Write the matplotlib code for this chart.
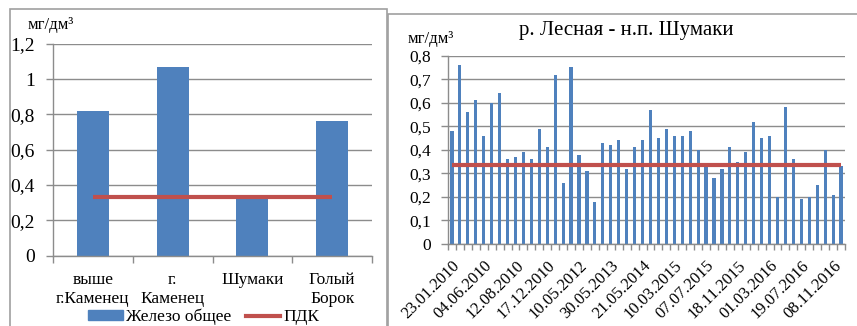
import matplotlib
matplotlib.use("Agg")
import matplotlib.pyplot as plt
from matplotlib.patches import Rectangle
from matplotlib.lines import Line2D
from matplotlib.ticker import FixedLocator, FuncFormatter

# --- data -------------------------------------------------------------
sites = ["выше\nг.Каменец", "г.\nКаменец", "Шумаки", "Голый\nБорок"]
iron_by_site = [0.82, 1.07, 0.33, 0.76]

pdk = 0.335

shumaki_iron = [
    0.48, 0.76, 0.56, 0.61, 0.46, 0.60, 0.64, 0.36, 0.37, 0.39,
    0.36, 0.49, 0.41, 0.72, 0.26, 0.75, 0.38, 0.31, 0.18, 0.43,
    0.42, 0.44, 0.32, 0.41, 0.44, 0.57, 0.45, 0.49, 0.46, 0.46,
    0.48, 0.40, 0.33, 0.28, 0.32, 0.41, 0.35, 0.39, 0.52, 0.45,
    0.46, 0.20, 0.58, 0.36, 0.19, 0.20, 0.25, 0.40, 0.21, 0.33,
]
date_labels = [
    "23.01.2010", "04.06.2010", "12.08.2010", "17.12.2010", "10.05.2012",
    "30.05.2013", "21.05.2014", "10.03.2015", "07.07.2015", "18.11.2015",
    "01.03.2016", "19.07.2016", "08.11.2016",
]
label_step = 4

# --- style ------------------------------------------------------------
plt.rcParams["font.family"] = ["Liberation Serif", "DejaVu Serif"]
BLUE = "#4F81BD"
RED = "#C0504D"
GRID = "#8C8C8C"
W, H = 857, 326

fig = plt.figure(figsize=(W / 100, H / 100), dpi=100)


def fx(px):
    return px / W


def fy(py):
    return 1 - py / H


def comma(v, _pos):
    s = f"{v:.1f}".rstrip("0").rstrip(".")
    return s.replace(".", ",")


def style_axes(ax, pad):
    ax.set_facecolor("white")
    for side in ("top", "right"):
        ax.spines[side].set_visible(False)
    for side in ("left", "bottom"):
        ax.spines[side].set_color(GRID)
        ax.spines[side].set_linewidth(1.0)
    ax.yaxis.grid(True, color=GRID, linewidth=1.0)
    ax.set_axisbelow(True)
    ax.yaxis.set_major_formatter(FuncFormatter(comma))
    ax.tick_params(axis="y", length=5, color=GRID, width=1.0, pad=pad)


# frames around the two charts
fig.patches.append(Rectangle((fx(10), -0.2), fx(377), fy(9) + 0.2,
                             transform=fig.transFigure, fill=False,
                             edgecolor="#A0A0A0", linewidth=1.2))
fig.patches.append(Rectangle((fx(388), -0.2), fx(500), fy(14) + 0.2,
                             transform=fig.transFigure, fill=False,
                             edgecolor="#A0A0A0", linewidth=1.2))

# --- left chart: iron by site ---------------------------------------
ax1 = fig.add_axes([fx(53), fy(255.7), fx(372 - 53), (255.7 - 43.7) / H])
style_axes(ax1, pad=8)
x1 = list(range(len(sites)))
ax1.bar(x1, iron_by_site, width=0.4, color=BLUE, zorder=2)
ax1.plot(x1, [pdk] * len(x1), color=RED, linewidth=3.0, zorder=3,
         solid_capstyle="butt")
ax1.set_xlim(-0.5, len(sites) - 0.5)
ax1.set_ylim(0, 1.2)
ax1.set_yticks([0, 0.2, 0.4, 0.6, 0.8, 1.0, 1.2])
ax1.tick_params(axis="y", labelsize=14)
ax1.set_xticks(x1)
ax1.set_xticklabels(sites, fontsize=12.5, linespacing=1.2)
ax1.tick_params(axis="x", which="major", length=0, pad=12)
ax1.xaxis.set_minor_locator(FixedLocator([i - 0.5 for i in range(len(sites) + 1)]))
ax1.tick_params(axis="x", which="minor", length=5, color=GRID, width=1.0)
fig.text(fx(51), fy(25), "мг/дм³", ha="center", va="center", fontsize=12)

handles = [Rectangle((0, 0), 1, 1, color=BLUE),
           Line2D([], [], color=RED, linewidth=3.0)]
fig.legend(handles, ["Железо общее", "ПДК"], loc="center",
           bbox_to_anchor=(fx(204), fy(317)), ncol=2, frameon=False,
           fontsize=12.5, handlelength=2.0, handleheight=0.55,
           handletextpad=0.2, columnspacing=0.8, borderpad=0)

# --- right chart: time series at Шумаки ------------------------------
ax2 = fig.add_axes([fx(448), fy(244), fx(845 - 448), (244 - 55.7) / H])
style_axes(ax2, pad=7)
x2 = list(range(len(shumaki_iron)))
ax2.bar(x2, shumaki_iron, width=0.4, color=BLUE, zorder=2)
ax2.plot([x2[0], x2[-1]], [pdk, pdk], color=RED, linewidth=3.0, zorder=3,
         solid_capstyle="butt")
ax2.set_xlim(-0.5, len(shumaki_iron) - 0.5)
ax2.set_ylim(0, 0.8)
ax2.set_yticks([0, 0.1, 0.2, 0.3, 0.4, 0.5, 0.6, 0.7, 0.8])
ax2.tick_params(axis="y", labelsize=12.5)
ax2.set_xticks(x2[::label_step])
ax2.set_xticklabels(date_labels, fontsize=12, rotation=45, ha="right",
                    rotation_mode="anchor")
ax2.tick_params(axis="x", which="major", length=0, pad=10)
ax2.xaxis.set_minor_locator(FixedLocator([i - 0.5 for i in range(len(x2) + 1)]))
ax2.tick_params(axis="x", which="minor", length=4, color=GRID, width=1.0)
fig.text(fx(431), fy(39), "мг/дм³", ha="center", va="center", fontsize=12)
fig.text(fx(626), fy(31), "р. Лесная - н.п. Шумаки", ha="center",
         va="center", fontsize=15)

fig.savefig("out.png", dpi=100, facecolor="white")
